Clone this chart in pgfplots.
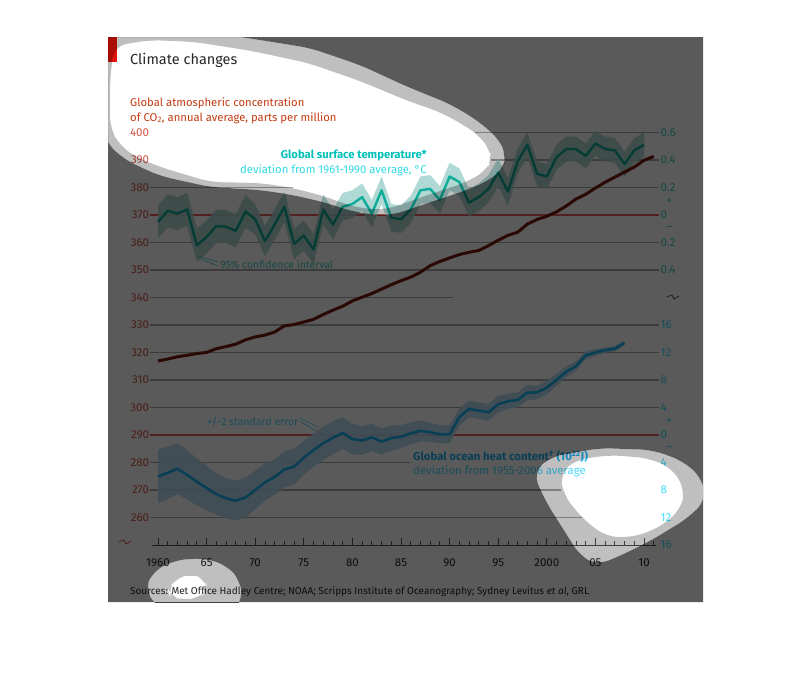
\documentclass[border=0pt]{standalone}
\usepackage{pgfplots}
\pgfplotsset{compat=1.18}
\usepackage{pgfplotstable}
\usepackage{fontspec}
\setmainfont{Fira Sans}

% surface temperature anomaly (deg C) and band half-width
\pgfplotstableread{
yr t e
1960 -0.05 0.12
1961 0.03 0.12
1962 0.01 0.12
1963 0.04 0.12
1964 -0.22 0.12
1965 -0.16 0.12
1966 -0.08 0.12
1967 -0.085 0.12
1968 -0.115 0.12
1969 0.025 0.12
1970 -0.03 0.11
1971 -0.19 0.11
1972 -0.07 0.11
1973 0.06 0.11
1974 -0.21 0.11
1975 -0.15 0.11
1976 -0.25 0.11
1977 0.04 0.11
1978 -0.07 0.11
1979 0.06 0.10
1980 0.08 0.10
1981 0.13 0.10
1982 0.01 0.10
1983 0.18 0.10
1984 -0.02 0.10
1985 -0.03 0.10
1986 0.04 0.10
1987 0.18 0.10
1988 0.19 0.10
1989 0.11 0.10
1990 0.28 0.10
1991 0.24 0.10
1992 0.09 0.10
1993 0.13 0.10
1994 0.19 0.10
1995 0.31 0.10
1996 0.17 0.10
1997 0.39 0.09
1998 0.51 0.09
1999 0.30 0.09
2000 0.28 0.09
2001 0.42 0.09
2002 0.48 0.09
2003 0.48 0.09
2004 0.43 0.09
2005 0.52 0.09
2006 0.48 0.09
2007 0.47 0.09
2008 0.37 0.09
2009 0.47 0.09
2010 0.51 0.09
}\temptable

% the same band walked round as one outline: s=1 upper edge, s=-1 lower edge back
\pgfplotstableread{
yr t e s
1960 -0.05 0.12 1
1961 0.03 0.12 1
1962 0.01 0.12 1
1963 0.04 0.12 1
1964 -0.22 0.12 1
1965 -0.16 0.12 1
1966 -0.08 0.12 1
1967 -0.085 0.12 1
1968 -0.115 0.12 1
1969 0.025 0.12 1
1970 -0.03 0.11 1
1971 -0.19 0.11 1
1972 -0.07 0.11 1
1973 0.06 0.11 1
1974 -0.21 0.11 1
1975 -0.15 0.11 1
1976 -0.25 0.11 1
1977 0.04 0.11 1
1978 -0.07 0.11 1
1979 0.06 0.10 1
1980 0.08 0.10 1
1981 0.13 0.10 1
1982 0.01 0.10 1
1983 0.18 0.10 1
1984 -0.02 0.10 1
1985 -0.03 0.10 1
1986 0.04 0.10 1
1987 0.18 0.10 1
1988 0.19 0.10 1
1989 0.11 0.10 1
1990 0.28 0.10 1
1991 0.24 0.10 1
1992 0.09 0.10 1
1993 0.13 0.10 1
1994 0.19 0.10 1
1995 0.31 0.10 1
1996 0.17 0.10 1
1997 0.39 0.09 1
1998 0.51 0.09 1
1999 0.30 0.09 1
2000 0.28 0.09 1
2001 0.42 0.09 1
2002 0.48 0.09 1
2003 0.48 0.09 1
2004 0.43 0.09 1
2005 0.52 0.09 1
2006 0.48 0.09 1
2007 0.47 0.09 1
2008 0.37 0.09 1
2009 0.47 0.09 1
2010 0.51 0.09 1
2010 0.51 0.09 -1
2009 0.47 0.09 -1
2008 0.37 0.09 -1
2007 0.47 0.09 -1
2006 0.48 0.09 -1
2005 0.52 0.09 -1
2004 0.43 0.09 -1
2003 0.48 0.09 -1
2002 0.48 0.09 -1
2001 0.42 0.09 -1
2000 0.28 0.09 -1
1999 0.30 0.09 -1
1998 0.51 0.09 -1
1997 0.39 0.09 -1
1996 0.17 0.10 -1
1995 0.31 0.10 -1
1994 0.19 0.10 -1
1993 0.13 0.10 -1
1992 0.09 0.10 -1
1991 0.24 0.10 -1
1990 0.28 0.10 -1
1989 0.11 0.10 -1
1988 0.19 0.10 -1
1987 0.18 0.10 -1
1986 0.04 0.10 -1
1985 -0.03 0.10 -1
1984 -0.02 0.10 -1
1983 0.18 0.10 -1
1982 0.01 0.10 -1
1981 0.13 0.10 -1
1980 0.08 0.10 -1
1979 0.06 0.10 -1
1978 -0.07 0.11 -1
1977 0.04 0.11 -1
1976 -0.25 0.11 -1
1975 -0.15 0.11 -1
1974 -0.21 0.11 -1
1973 0.06 0.11 -1
1972 -0.07 0.11 -1
1971 -0.19 0.11 -1
1970 -0.03 0.11 -1
1969 0.025 0.12 -1
1968 -0.115 0.12 -1
1967 -0.085 0.12 -1
1966 -0.08 0.12 -1
1965 -0.16 0.12 -1
1964 -0.22 0.12 -1
1963 0.04 0.12 -1
1962 0.01 0.12 -1
1961 0.03 0.12 -1
1960 -0.05 0.12 -1
}\tempband

% CO2, ppm
\pgfplotstableread{
yr c
1960 316.91
1961 317.64
1962 318.45
1963 318.99
1964 319.62
1965 320.04
1966 321.38
1967 322.16
1968 323.04
1969 324.62
1970 325.68
1971 326.32
1972 327.45
1973 329.68
1974 330.18
1975 331.11
1976 332.04
1977 333.83
1978 335.40
1979 336.84
1980 338.75
1981 340.11
1982 341.45
1983 343.05
1984 344.65
1985 346.12
1986 347.42
1987 349.19
1988 351.57
1989 353.12
1990 354.39
1991 355.61
1992 356.45
1993 357.10
1994 358.83
1995 360.82
1996 362.61
1997 363.73
1998 366.70
1999 368.38
2000 369.55
2001 371.14
2002 373.28
2003 375.80
2004 377.52
2005 379.80
2006 381.90
2007 383.79
2008 385.60
2009 387.43
2010 389.90
2011 391.30
}\cotable

% ocean heat content, 10^22 J, and band half-width
\pgfplotstableread{
yr h e
1960 -6.0 3.9
1961 -5.5 3.8
1962 -4.9 3.7
1963 -5.8 3.6
1964 -6.8 3.4
1965 -7.7 3.2
1966 -8.6 3.0
1967 -9.2 2.9
1968 -9.55 2.9
1969 -9.1 2.9
1970 -8.0 2.8
1971 -6.9 2.7
1972 -6.1 2.6
1973 -5.0 2.6
1974 -4.6 2.6
1975 -3.3 2.5
1976 -2.2 2.4
1977 -1.2 2.4
1978 -0.4 2.4
1979 0.3 2.3
1980 -0.6 2.2
1981 -0.8 2.1
1982 -0.35 2.0
1983 -0.95 1.9
1984 -0.45 1.8
1985 -0.25 1.7
1986 0.25 1.6
1987 0.6 1.5
1988 0.4 1.4
1989 0.1 1.3
1990 0.1 1.3
1991 2.6 1.3
1992 3.8 1.2
1993 3.55 1.2
1994 3.3 1.2
1995 4.5 1.2
1996 4.9 1.1
1997 5.1 1.1
1998 6.15 1.1
1999 6.2 1.0
2000 6.9 1.0
2001 8.0 0.9
2002 9.2 0.8
2003 10.0 0.7
2004 11.6 0.6
2005 12.0 0.5
2006 12.35 0.4
2007 12.55 0.4
2008 13.4 0.3
}\ohctable

% ocean heat band as one outline
\pgfplotstableread{
yr h e s
1960 -6.0 3.9 1
1961 -5.5 3.8 1
1962 -4.9 3.7 1
1963 -5.8 3.6 1
1964 -6.8 3.4 1
1965 -7.7 3.2 1
1966 -8.6 3.0 1
1967 -9.2 2.9 1
1968 -9.55 2.9 1
1969 -9.1 2.9 1
1970 -8.0 2.8 1
1971 -6.9 2.7 1
1972 -6.1 2.6 1
1973 -5.0 2.6 1
1974 -4.6 2.6 1
1975 -3.3 2.5 1
1976 -2.2 2.4 1
1977 -1.2 2.4 1
1978 -0.4 2.4 1
1979 0.3 2.3 1
1980 -0.6 2.2 1
1981 -0.8 2.1 1
1982 -0.35 2.0 1
1983 -0.95 1.9 1
1984 -0.45 1.8 1
1985 -0.25 1.7 1
1986 0.25 1.6 1
1987 0.6 1.5 1
1988 0.4 1.4 1
1989 0.1 1.3 1
1990 0.1 1.3 1
1991 2.6 1.3 1
1992 3.8 1.2 1
1993 3.55 1.2 1
1994 3.3 1.2 1
1995 4.5 1.2 1
1996 4.9 1.1 1
1997 5.1 1.1 1
1998 6.15 1.1 1
1999 6.2 1.0 1
2000 6.9 1.0 1
2001 8.0 0.9 1
2002 9.2 0.8 1
2003 10.0 0.7 1
2004 11.6 0.6 1
2005 12.0 0.5 1
2006 12.35 0.4 1
2007 12.55 0.4 1
2008 13.4 0.3 1
2008 13.4 0.3 -1
2007 12.55 0.4 -1
2006 12.35 0.4 -1
2005 12.0 0.5 -1
2004 11.6 0.6 -1
2003 10.0 0.7 -1
2002 9.2 0.8 -1
2001 8.0 0.9 -1
2000 6.9 1.0 -1
1999 6.2 1.0 -1
1998 6.15 1.1 -1
1997 5.1 1.1 -1
1996 4.9 1.1 -1
1995 4.5 1.2 -1
1994 3.3 1.2 -1
1993 3.55 1.2 -1
1992 3.8 1.2 -1
1991 2.6 1.3 -1
1990 0.1 1.3 -1
1989 0.1 1.3 -1
1988 0.4 1.4 -1
1987 0.6 1.5 -1
1986 0.25 1.6 -1
1985 -0.25 1.7 -1
1984 -0.45 1.8 -1
1983 -0.95 1.9 -1
1982 -0.35 2.0 -1
1981 -0.8 2.1 -1
1980 -0.6 2.2 -1
1979 0.3 2.3 -1
1978 -0.4 2.4 -1
1977 -1.2 2.4 -1
1976 -2.2 2.4 -1
1975 -3.3 2.5 -1
1974 -4.6 2.6 -1
1973 -5.0 2.6 -1
1972 -6.1 2.6 -1
1971 -6.9 2.7 -1
1970 -8.0 2.8 -1
1969 -9.1 2.9 -1
1968 -9.55 2.9 -1
1967 -9.2 2.9 -1
1966 -8.6 3.0 -1
1965 -7.7 3.2 -1
1964 -6.8 3.4 -1
1963 -5.8 3.6 -1
1962 -4.9 3.7 -1
1961 -5.5 3.8 -1
1960 -6.0 3.9 -1
}\ohcband

\newcommand\fs[1]{\fontsize{#1}{#1}\selectfont}

% highlight blobs as polygons, page coordinates in pt (y down is negative)
\newcommand\bloboneout{(100pt,-30pt) -- (200pt,-31pt) -- (260pt,-40pt) -- (310pt,-48pt) -- (360pt,-65pt) -- (408pt,-87pt) -- (450pt,-104pt) -- (477pt,-120pt) -- (500pt,-140pt) -- (506pt,-155pt) -- (504pt,-168pt) -- (490pt,-180pt) -- (467pt,-190pt) -- (443pt,-198pt) -- (413pt,-208pt) -- (393pt,-215pt) -- (373pt,-215pt) -- (347pt,-210pt) -- (327pt,-203pt) -- (293pt,-195pt) -- (260pt,-190pt) -- (210pt,-187pt) -- (160pt,-176pt) -- (140pt,-167pt) -- (122pt,-158pt) -- (106pt,-142pt) -- (100pt,-120pt) -- cycle}
\newcommand\blobonein{(114pt,-46pt) -- (150pt,-40pt) -- (195pt,-42pt) -- (252pt,-51pt) -- (308pt,-63pt) -- (360pt,-81pt) -- (408pt,-101pt) -- (440pt,-112pt) -- (462pt,-124pt) -- (480pt,-136pt) -- (490pt,-150pt) -- (492pt,-160pt) -- (487pt,-170pt) -- (467pt,-182pt) -- (443pt,-190pt) -- (413pt,-200pt) -- (393pt,-208pt) -- (373pt,-210pt) -- (347pt,-205pt) -- (327pt,-197pt) -- (293pt,-188pt) -- (260pt,-183pt) -- (210pt,-182pt) -- (160pt,-167pt) -- (138pt,-158pt) -- (120pt,-146pt) -- (110pt,-128pt) -- (110pt,-80pt) -- cycle}
\newcommand\blobtwoout{(533pt,-473pt) -- (550pt,-457pt) -- (600pt,-448pt) -- (653pt,-450pt) -- (683pt,-461pt) -- (702pt,-478pt) -- (706pt,-500pt) -- (688pt,-518pt) -- (652pt,-540pt) -- (620pt,-556pt) -- (597pt,-565pt) -- (580pt,-556pt) -- (565pt,-532pt) -- (546pt,-502pt) -- cycle}
\newcommand\blobtwoin{(560pt,-474pt) -- (575pt,-460pt) -- (610pt,-455pt) -- (648pt,-458pt) -- (672pt,-468pt) -- (685pt,-490pt) -- (681pt,-509pt) -- (662pt,-526pt) -- (635pt,-537pt) -- (607pt,-537pt) -- (585pt,-521pt) -- (564pt,-496pt) -- cycle}
\newcommand\blobthreeout{(145pt,-590pt) -- (152pt,-572pt) -- (175pt,-560pt) -- (205pt,-558pt) -- (228pt,-566pt) -- (240pt,-580pt) -- (243pt,-600pt) -- (230pt,-615pt) -- (190pt,-618pt) -- (158pt,-608pt) -- cycle}
\newcommand\blobthreein{(168pt,-590pt) -- (175pt,-578pt) -- (192pt,-574pt) -- (205pt,-578pt) -- (208pt,-590pt) -- (200pt,-598pt) -- (182pt,-600pt) -- (170pt,-597pt) -- cycle}

\definecolor{cgrid}{HTML}{A8A8A8}
\definecolor{czero}{HTML}{E86060}
\definecolor{ctband}{HTML}{A8D4D0}
\definecolor{ctline}{HTML}{10AC9A}
\definecolor{coband}{HTML}{B4DCF2}
\definecolor{coline}{HTML}{18B4F0}
\definecolor{ccline}{HTML}{771C0E}
\definecolor{ctick}{HTML}{555555}
\definecolor{cblack}{HTML}{262626}
\definecolor{ccticks}{HTML}{D25544}
\definecolor{cchead}{HTML}{C43C12}
\definecolor{ctticks}{HTML}{40CCC0}
\definecolor{cthead}{HTML}{00C0BA}
\definecolor{ctsub}{HTML}{30DAE4}
\definecolor{coticks}{HTML}{3CE0FF}
\definecolor{cohead}{HTML}{1CB2F5}
\definecolor{cosub}{HTML}{4ADCFF}
\definecolor{cred}{HTML}{E3120B}

\begin{document}
\begin{tikzpicture}
\path (0pt,0pt) rectangle (810pt,-696pt);
\fill[white] (108pt,-37pt) rectangle (703pt,-602pt);
% grid, interrupted where the reference shows none
\begin{scope}[cgrid, line width=1.8pt]
\draw (475pt,-132.5pt) -- (659pt,-132.5pt);
\draw (491pt,-160pt) -- (659pt,-160pt);
\draw (150pt,-187.5pt) -- (293pt,-187.5pt) (450pt,-187.5pt) -- (659pt,-187.5pt);
\draw (150pt,-242.5pt) -- (659pt,-242.5pt);
\draw (150pt,-270pt) -- (659pt,-270pt);
\draw (150pt,-297.5pt) -- (453pt,-297.5pt);
\draw (150pt,-325pt) -- (659pt,-325pt);
\draw (150pt,-352.5pt) -- (659pt,-352.5pt);
\draw (150pt,-380pt) -- (659pt,-380pt);
\draw (150pt,-407.5pt) -- (659pt,-407.5pt);
\draw (150pt,-462.5pt) -- (410pt,-462.5pt);
\draw (150pt,-490pt) -- (561pt,-490pt);
\draw (150pt,-517.5pt) -- (582pt,-517.5pt);
\end{scope}
% x is years after 1960
\begin{axis}[scale only axis, width=583.2pt, height=440pt,
  xmin=-5, xmax=55, ymin=245, ymax=405,
  axis lines=none, clip=false,
  at={(109.4pt,-558.75pt)}, anchor=south west]
  \draw[czero, line width=1.3pt] (axis cs:-0.82,370) -- (axis cs:51.54,370);
  \draw[czero, line width=1.3pt] (axis cs:-0.82,290) -- (axis cs:51.54,290);
  % temperature
  \addplot[fill=ctband, fill opacity=0.9, draw=none] table[x expr=\thisrow{yr}-1960, y expr=370+50*(\thisrow{t}+\thisrow{s}*\thisrow{e})] {\tempband} -- cycle;
  \addplot[ctline, line width=2.4pt, line join=round] table[x expr=\thisrow{yr}-1960, y expr=370+50*\thisrow{t}] {\temptable};
  % ocean heat content
  \addplot[fill=coband, fill opacity=0.9, draw=none] table[x expr=\thisrow{yr}-1960, y expr=290+2.5*(\thisrow{h}+\thisrow{s}*\thisrow{e})] {\ohcband} -- cycle;
  \addplot[coline, line width=2.6pt, line join=round] table[x expr=\thisrow{yr}-1960, y expr=290+2.5*\thisrow{h}] {\ohctable};
  % CO2
  \addplot[ccline, line width=3pt, line join=round] table[x expr=\thisrow{yr}-1960, y=c] {\cotable};
  % bottom axis
  \draw[ctick, line width=0.8pt] (axis cs:-0.6,250) -- (axis cs:51.2,250);
  \pgfplotsinvokeforeach{0,...,51}{\draw[ctick, line width=0.8pt] (axis cs:#1,250) -- ++(0pt,4pt);}
  \pgfplotsinvokeforeach{0,5,...,50}{\draw[ctick, line width=0.8pt] (axis cs:#1,250) -- ++(0pt,7pt);}
  \begin{scope}[every node/.style={anchor=base, yshift=-21.5pt, text=cblack, font=\fs{11.5}}]
  \node at (axis cs:0,250) {1960};
  \node at (axis cs:5,250) {65};
  \node at (axis cs:10,250) {70};
  \node at (axis cs:15,250) {75};
  \node at (axis cs:20,250) {80};
  \node at (axis cs:25,250) {85};
  \node at (axis cs:30,250) {90};
  \node at (axis cs:35,250) {95};
  \node at (axis cs:40,250) {2000};
  \node at (axis cs:45,250) {05};
  \node at (axis cs:50,250) {10};
  \end{scope}
  % left CO2 labels
  \pgfplotsinvokeforeach{260,270,...,400}{\node[anchor=east, text=ccticks, font=\fs{11.5}, inner sep=0pt] at (axis cs:-0.9,#1) {#1};}
  % right temperature labels
  \begin{scope}[every node/.style={anchor=west, inner sep=0pt, text=ctticks, font=\fs{11.5}}]
  \node at (axis cs:51.7,400) {0.6};
  \node at (axis cs:51.7,390) {0.4};
  \node at (axis cs:51.7,380) {0.2};
  \node at (axis cs:51.7,370) {0};
  \node at (axis cs:51.7,360) {0.2};
  \node at (axis cs:51.7,350) {0.4};
  \node[anchor=center] at (axis cs:52.6,375) {+};
  \node[anchor=center] at (axis cs:52.6,365) {–};
  \end{scope}
  % right ocean heat labels
  \begin{scope}[every node/.style={anchor=west, inner sep=0pt, text=coticks, font=\fs{11.5}}]
  \node at (axis cs:51.7,330) {16};
  \node at (axis cs:51.7,320) {12};
  \node at (axis cs:51.7,310) {8};
  \node at (axis cs:51.7,300) {4};
  \node at (axis cs:51.7,290) {0};
  \node at (axis cs:51.7,280) {4};
  \node at (axis cs:51.7,270) {8};
  \node at (axis cs:51.7,260) {12};
  \node at (axis cs:51.7,250) {16};
  \node[anchor=center] at (axis cs:52.6,295) {+};
  \node[anchor=center] at (axis cs:52.6,285) {–};
  \end{scope}
\end{axis}
% texts
\node[anchor=base west, inner sep=0pt, text=cohead, font=\bfseries\fs{11.4}] at (413pt,-460pt) {Global ocean heat content\textsuperscript{†} (10\textsuperscript{22}J)};
\node[anchor=base west, inner sep=0pt, text=cosub, font=\fs{11.4}] at (413pt,-474pt) {deviation from 1955-2006 average};
\node[anchor=base east, inner sep=0pt, text=cthead, font=\bfseries\fs{11.3}] at (427pt,-158pt) {Global surface temperature*};
\node[anchor=base east, inner sep=0pt, text=ctsub, font=\fs{11.3}] at (427pt,-173pt) {deviation from 1961-1990 average, °C};
\node[anchor=base west, inner sep=0pt, text=ctticks, font=\fs{10.5}] at (220pt,-268pt) {95\% confidence interval};
\draw[ctticks, line width=0.6pt] (198pt,-256pt) -- (218pt,-262pt) (199pt,-258pt) -- (218pt,-266pt);
\node[anchor=base west, inner sep=0pt, text=cosub, font=\fs{10.5}] at (207pt,-425pt) {+/−2 standard error};
\draw[cosub, line width=0.6pt] (300pt,-418pt) -- (318pt,-427pt) (300pt,-421pt) -- (316pt,-431pt);
\node[anchor=base west, inner sep=0pt, text=cblack, font=\fs{14.5}] at (130pt,-64pt) {Climate changes};
\node[anchor=base west, inner sep=0pt, text=cchead, font=\fs{11.3}] at (130pt,-106pt) {Global atmospheric concentration};
\node[anchor=base west, inner sep=0pt, text=cchead, font=\fs{11.3}] at (130pt,-121pt) {of CO\textsubscript{2}, annual average, parts per million};
\node[anchor=base west, inner sep=0pt, text=cblack, font=\fs{10}] at (130pt,-594pt) {Sources: Met Office Hadley Centre; NOAA; Scripps Institute of Oceanography; Sydney Levitus \textit{et al}, GRL};
\fill[cred] (108pt,-37pt) rectangle (117pt,-62pt);
% axis breaks
\draw[ctick, line width=0.8pt] (667pt,-297pt) -- (672pt,-295pt) -- (674pt,-299pt) -- (679pt,-296pt);
\draw[ccticks, line width=0.8pt] (119pt,-542pt) -- (124pt,-540pt) -- (126pt,-544pt) -- (131pt,-541pt);
% dimming veil with the highlighted holes
\begin{scope}
  \clip (108pt,-37pt) rectangle (703pt,-602pt);
  \fill[black, fill opacity=0.647, even odd rule] (108pt,-37pt) rectangle (703pt,-602pt) [rounded corners=12pt] \bloboneout \blobtwoout \blobthreeout;
  \fill[black, fill opacity=0.25, even odd rule, rounded corners=12pt] \bloboneout \blobonein \blobtwoout \blobtwoin \blobthreeout \blobthreein;
\end{scope}
\end{tikzpicture}
\end{document}
